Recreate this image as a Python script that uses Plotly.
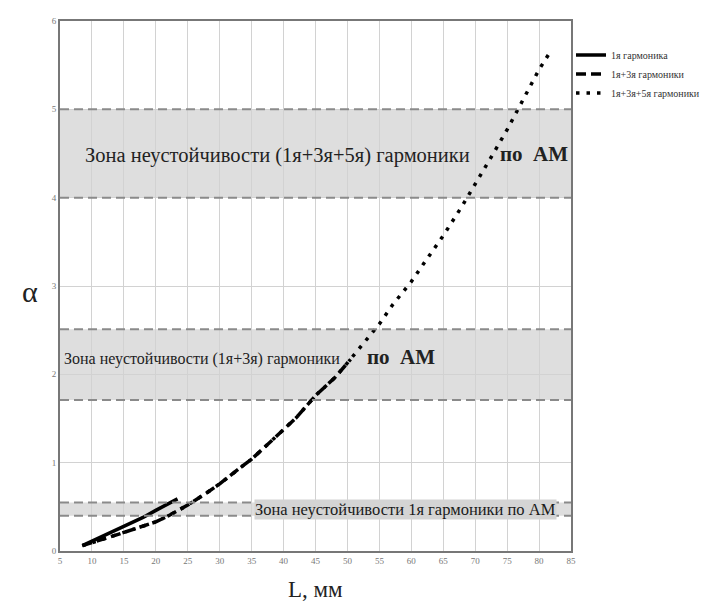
import plotly.graph_objects as go

# ---- data ----
x_h1 = [8.5, 10, 12, 14, 16, 18, 20, 22, 23.4]
y_h1 = [0.06, 0.11, 0.17, 0.24, 0.31, 0.38, 0.46, 0.54, 0.59]

x_h13 = [8.5, 10, 12, 15, 18, 20, 22, 25, 28, 30, 33, 35, 38, 40, 42, 45, 48, 50.5]
y_h13 = [0.06, 0.09, 0.14, 0.21, 0.28, 0.33, 0.40, 0.52, 0.66, 0.76, 0.93, 1.04, 1.24, 1.37, 1.51, 1.76, 1.96, 2.17]

x_h135 = [8.5, 10, 12, 15, 18, 20, 22, 25, 28, 30, 33, 35, 38, 40, 42, 45, 48, 50, 53, 55, 57, 60, 62, 65, 68, 70, 73, 75, 78, 80, 82]
y_h135 = [0.06, 0.09, 0.14, 0.21, 0.28, 0.33, 0.40, 0.52, 0.66, 0.76, 0.93, 1.04, 1.24, 1.37, 1.51, 1.76, 1.96, 2.13, 2.40, 2.57, 2.78, 3.05, 3.26, 3.57, 3.91, 4.15, 4.52, 4.77, 5.18, 5.45, 5.68]

zones_lo = [4.0, 1.71, 0.40]
zones_hi = [5.0, 2.51, 0.55]

x_ticks = list(range(5, 90, 5))
y_ticks = [0, 1, 2, 3, 4, 5, 6]

names = ["1я гармоника", "1я+3я гармоники", "1я+3я+5я гармоники"]

SERIF = "Liberation Serif"

fig = go.Figure()
fig.add_trace(go.Scatter(x=x_h1, y=y_h1, mode="lines", name=names[0],
                         line=dict(color="black", width=3.5)))
fig.add_trace(go.Scatter(x=x_h13, y=y_h13, mode="lines", name=names[1],
                         line=dict(color="black", width=3.5, dash="10px,5px")))
fig.add_trace(go.Scatter(x=x_h135, y=y_h135, mode="lines", name=names[2],
                         line=dict(color="black", width=3.5, dash="3.5px,7px")))

shapes = []
for lo, hi in zip(zones_lo, zones_hi):
    shapes.append(dict(type="rect", xref="paper", yref="y", x0=0, x1=1, y0=lo, y1=hi,
                       fillcolor="#dedede", line=dict(width=0), layer="below"))
    for v in (lo, hi):
        shapes.append(dict(type="line", xref="paper", yref="y", x0=0, x1=1, y0=v, y1=v,
                           line=dict(color="#8a8a8a", width=2, dash="9px,5px"), layer="above"))

annotations = [
    dict(x=8.6, y=4.48, xref="x", yref="y", xanchor="left", yanchor="middle", showarrow=False,
         text="Зона неустойчивости (1я+3я+5я) гармоники",
         font=dict(family=SERIF, size=20.5, color="#222")),
    dict(x=73.6, y=4.5, xref="x", yref="y", xanchor="left", yanchor="middle", showarrow=False,
         text="<b>по  АМ</b>", font=dict(family=SERIF, size=21, color="#222")),
    dict(x=5.3, y=2.17, xref="x", yref="y", xanchor="left", yanchor="middle", showarrow=False,
         text="Зона неустойчивости (1я+3я) гармоники",
         font=dict(family=SERIF, size=16, color="#222")),
    dict(x=52.8, y=2.2, xref="x", yref="y", xanchor="left", yanchor="middle", showarrow=False,
         text="<b>по  АМ</b>", font=dict(family=SERIF, size=21, color="#222")),
    dict(x=35.3, y=0.47, xref="x", yref="y", xanchor="left", yanchor="middle", showarrow=False,
         text="Зона неустойчивости 1я гармоники по АМ", bgcolor="#d4d4d4", borderpad=0,
         font=dict(family=SERIF, size=16.5, color="#1a1a1a")),
    dict(x=-0.058, y=0.49, xref="paper", yref="paper", xanchor="center", yanchor="middle",
         showarrow=False, text="α", font=dict(family=SERIF, size=30, color="#222")),
    dict(x=0.5, y=-0.073, xref="paper", yref="paper", xanchor="center", yanchor="middle",
         showarrow=False, text="L, мм", font=dict(family=SERIF, size=23, color="#222")),
]

fig.update_layout(
    width=711, height=600,
    margin=dict(l=52, r=148, t=8, b=57),
    paper_bgcolor="white", plot_bgcolor="white",
    shapes=shapes, annotations=annotations,
    legend=dict(x=1.0, y=0.963, xanchor="left", yanchor="top",
                font=dict(family=SERIF, size=10, color="#333"),
                bgcolor="rgba(0,0,0,0)", tracegroupgap=0, itemwidth=30),
    xaxis=dict(range=[5, 85], tickvals=x_ticks, ticktext=[str(v) for v in x_ticks],
               showgrid=True, gridcolor="#d2d2d2", gridwidth=1.3,
               showline=True, linecolor="#777", linewidth=2, mirror=True,
               ticks="", zeroline=False,
               tickfont=dict(family=SERIF, size=9, color="#777")),
    yaxis=dict(range=[0, 6], tickvals=y_ticks, ticktext=[str(v) for v in y_ticks],
               showgrid=True, gridcolor="#d2d2d2", gridwidth=1.3,
               showline=True, linecolor="#777", linewidth=2, mirror=True,
               ticks="", zeroline=False,
               tickfont=dict(family=SERIF, size=9, color="#777")),
)

fig.write_html("out.html")
